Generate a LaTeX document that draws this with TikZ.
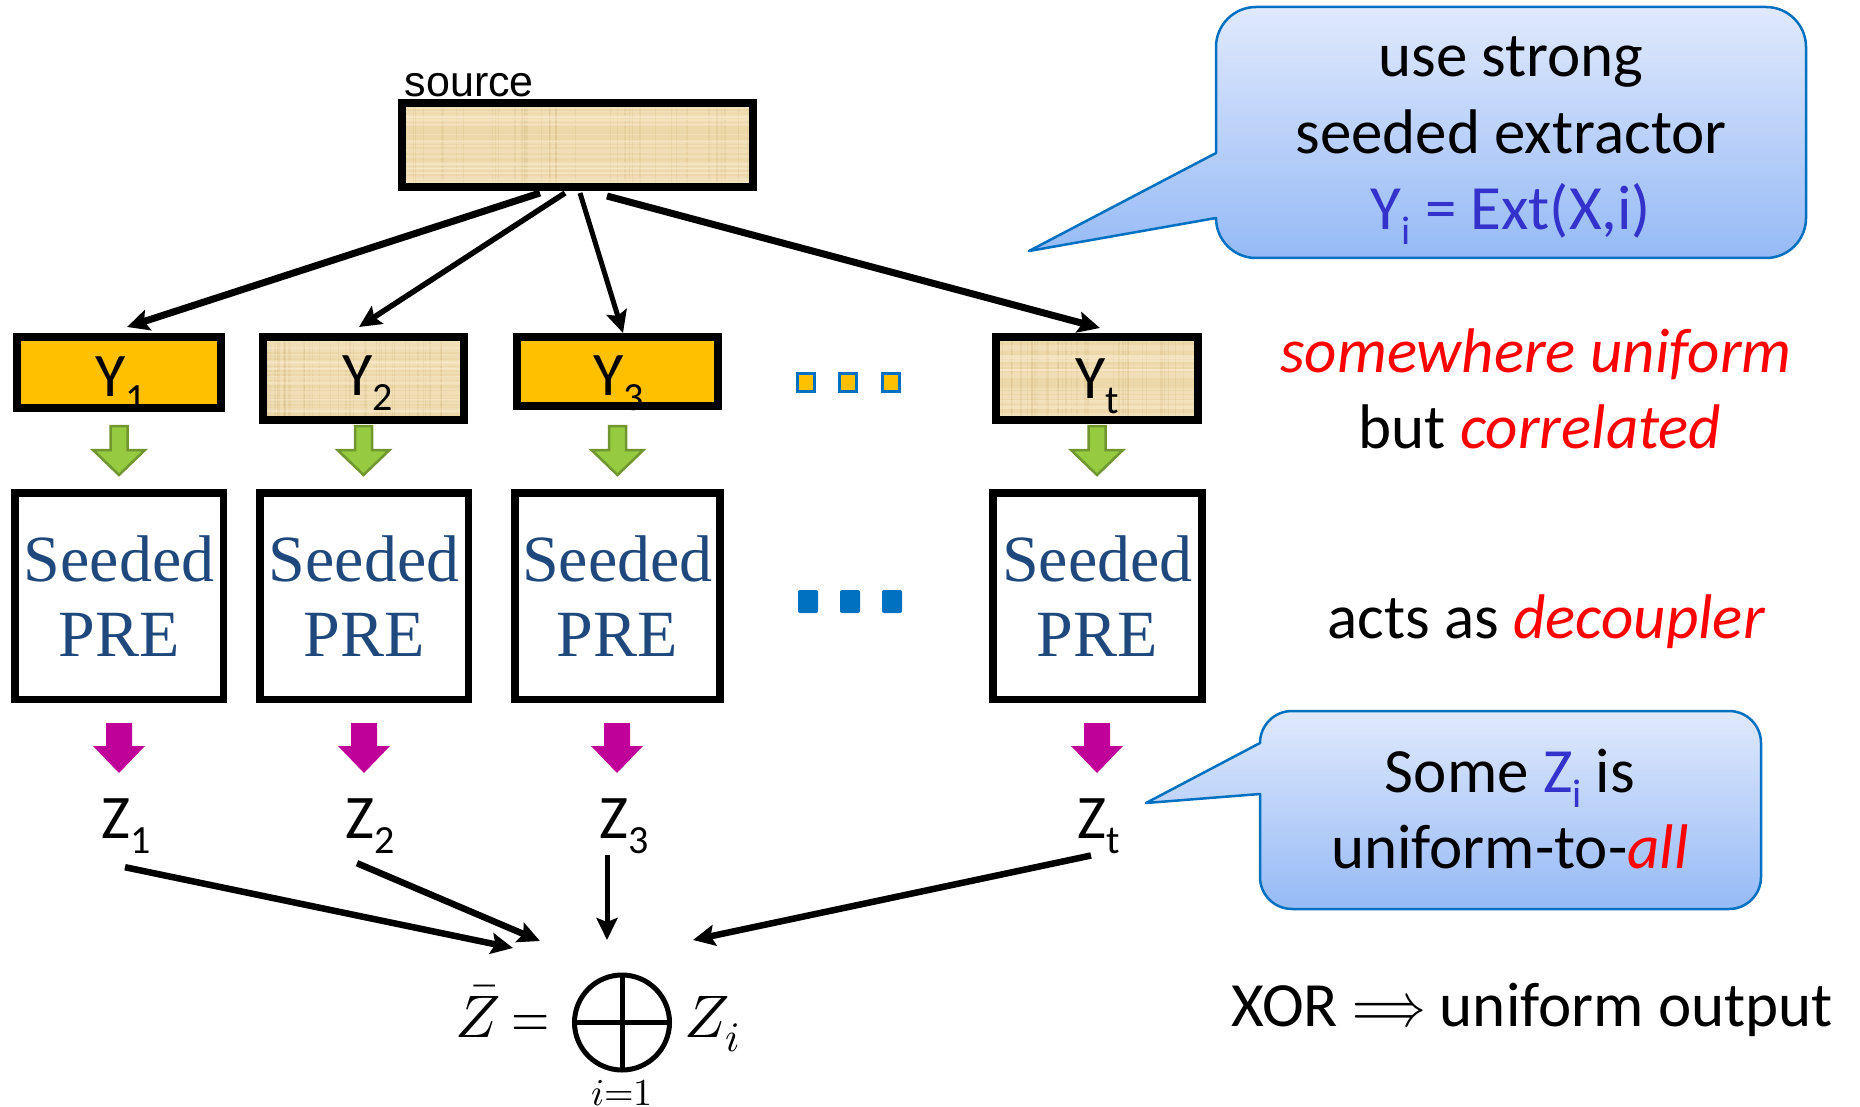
\documentclass[tikz,border=0pt]{standalone}
\usepackage{graphicx}
\usepackage{fontspec}
\usepackage{unicode-math}
\setmathfont{Latin Modern Math}
\setmainfont{Carlito}
\newfontfamily\arialf{Liberation Sans}
\newfontfamily\prefont{Liberation Serif}
\usetikzlibrary{arrows.meta,calc}

\definecolor{yorange}{RGB}{255,192,0}
\definecolor{papy}{RGB}{236,216,168}
\definecolor{papyD}{RGB}{196,166,104}
\definecolor{papyL}{RGB}{250,238,210}
\definecolor{garrow}{RGB}{150,202,64}
\definecolor{garrowD}{RGB}{112,150,48}
\definecolor{marrow}{RGB}{191,0,153}
\definecolor{preblue}{RGB}{31,73,125}
\definecolor{dotblue}{RGB}{0,112,192}
\definecolor{txtred}{RGB}{255,0,0}
\definecolor{txtblue}{RGB}{51,51,204}
\definecolor{calTop}{RGB}{224,233,252}
\definecolor{calBot}{RGB}{150,186,246}
\definecolor{calLine}{RGB}{0,112,192}

\newcommand\sbs[1]{\raisebox{-15pt}{\fontsize{40}{40}\selectfont #1}}

\tikzset{
  boxst/.style={line width=7.5pt, inner sep=0pt, outer sep=0pt},
  lbl/.style={inner sep=0pt, anchor=base, font=\fontsize{62}{62}\selectfont},
  rtxt/.style={inner sep=0pt, anchor=base, font=\fontsize{63}{63}\selectfont},
  pretxt/.style={align=center, text=preblue, font=\prefont\fontsize{66}{75}\selectfont},
  conn/.style={draw=black, -{Stealth[length=22pt, width=21pt, inset=4pt]}},
  greenar/.style={fill=garrow, draw=garrowD, line width=2.5pt, line join=miter},
  magar/.style={fill=marrow},
  odot/.style={draw=dotblue, fill=yorange, line width=3pt, minimum width=17pt, minimum height=18pt, inner sep=0pt},
  bdot/.style={fill=dotblue, minimum width=20pt, minimum height=23pt, inner sep=0pt, rounded corners=2pt},
  callout/.style={draw=calLine, line width=2.5pt, top color=calTop, bottom color=calBot, line join=round},
  mathtxt/.style={inner sep=0pt, font=\fontsize{60}{60}\selectfont}
}

% block arrow: style, cx, top, headstart, tip, shaft half, head half
\newcommand\barrow[7]{%
  \path[#1] (#2-#6,#3) -- (#2+#6,#3) -- (#2+#6,#4) -- (#2+#7,#4) -- (#2,#5) -- (#2-#7,#4) -- (#2-#6,#4) -- cycle;}

\newcommand\papyrus[1]{%
  \begin{scope}
    \clip (#1.south west) rectangle (#1.north east);
    \foreach \k in {1,...,40}{%
      \pgfmathsetmacro\ra{rnd}%
      \pgfmathsetmacro\rb{rnd}%
      \draw[papyD, opacity=0.16, line width=1.4pt] ($(#1.north west)!\ra!(#1.north east)$) -- ($(#1.south west)!\ra!(#1.south east)$);
      \draw[papyL, opacity=0.35, line width=1.8pt] ($(#1.north west)!\rb!(#1.south west)$) -- ($(#1.north east)!\rb!(#1.south east)$);
    }
  \end{scope}
  \draw[line width=7.5pt] (#1.south west) rectangle (#1.north east);}

\begin{document}
\begin{tikzpicture}[x=1pt, y=-1pt]
\useasboundingbox (0,0) rectangle (1860,1107);
\pgfmathsetseed{7}

% callouts
\draw[callout] (1029,251) -- (1216,218) arc[start angle=180, end angle=90, radius=40]
  -- (1766,258) arc[start angle=90, end angle=0, radius=40]
  -- (1806,47) arc[start angle=0, end angle=-90, radius=40]
  -- (1256,7) arc[start angle=-90, end angle=-180, radius=40]
  -- (1216,153) -- cycle;
\draw[callout] (1146,803) -- (1260,794) -- (1260,877) arc[start angle=180, end angle=90, radius=32]
  -- (1729,909) arc[start angle=90, end angle=0, radius=32]
  -- (1761,743) arc[start angle=0, end angle=-90, radius=32]
  -- (1292,711) arc[start angle=-90, end angle=-180, radius=32]
  -- cycle;

% source
\node[boxst, fill=papy, minimum width=351pt, minimum height=84pt] (src) at (577.5,145) {};
\papyrus{src}
\node[anchor=base west, inner sep=0pt, font=\arialf\fontsize{43}{43}\selectfont] (srcl) at (404.5,97) {source};

% Y boxes
\node[boxst, draw, fill=yorange, minimum width=204pt, minimum height=71pt] (y1) at (119,372.5) {};
\node[boxst, fill=papy, minimum width=201pt, minimum height=83pt] (y2) at (363.5,378.5) {};
\papyrus{y2}
\node[boxst, draw, fill=yorange, minimum width=201pt, minimum height=69pt] (y3) at (617.5,371.5) {};
\node[boxst, fill=papy, minimum width=202pt, minimum height=83pt] (yt) at (1097,378.5) {};
\papyrus{yt}

\node[lbl] (y1l) at (121,396) {Y\sbs{1}};
\node[lbl] (y2l) at (368,395) {Y\sbs{2}};
\node[lbl] (y3l) at (619,395) {Y\sbs{3}};
\node[lbl] (ytl) at (1097,398) {Y\sbs{t}};

% dots
\node[odot] (od1) at (806,382) {};
\node[odot] (od2) at (848,382) {};
\node[odot] (od3) at (891,382) {};
\node[bdot] (bd1) at (808,601.5) {};
\node[bdot] (bd2) at (850,601.5) {};
\node[bdot] (bd3) at (892,601.5) {};

% arrows source -> Y
\draw[conn, line width=7pt] ([xshift=-37.5pt, yshift=-6pt]src.south) -- ([xshift=8pt, yshift=10pt]y1.north);
\draw[conn, line width=5.5pt] ([xshift=-12.5pt, yshift=-6pt]src.south) -- ([xshift=-4.5pt, yshift=10pt]y2.north);
\draw[conn, line width=5pt] ([xshift=2.5pt, yshift=-6pt]src.south) -- ([xshift=5.5pt, yshift=4pt]y3.north);
\draw[conn, line width=7pt] ([xshift=29.5pt, yshift=-9pt]src.south) -- ([xshift=3pt, yshift=9pt]yt.north);

% green arrows
\barrow{greenar}{119}{426}{450}{475}{8.5}{26}
\barrow{greenar}{363.5}{426}{450}{475}{8.5}{26}
\barrow{greenar}{617.5}{426}{450}{475}{8.5}{26}
\barrow{greenar}{1097}{426}{450}{475}{8.5}{26}

% PRE boxes
\node[boxst, draw, fill=white, minimum width=208.5pt, minimum height=206.5pt, pretxt] (p1) at (119,596) {Seeded\\PRE};
\node[boxst, draw, fill=white, minimum width=208.5pt, minimum height=206.5pt, pretxt] (p2) at (364,596) {Seeded\\PRE};
\node[boxst, draw, fill=white, minimum width=205pt, minimum height=206.5pt, pretxt] (p3) at (617.5,596) {Seeded\\PRE};
\node[boxst, draw, fill=white, minimum width=209pt, minimum height=206.5pt, pretxt] (p4) at (1097.5,596) {Seeded\\PRE};

% magenta arrows
\barrow{magar}{119}{723}{746}{773}{13}{26}
\barrow{magar}{364}{723}{746}{773}{13}{26}
\barrow{magar}{617}{723}{746}{773}{13}{26}
\barrow{magar}{1097}{723}{746}{773}{13}{26}

% Z labels
\node[lbl] (z1) at (126,838) {Z\sbs{1}};
\node[lbl] (z2) at (370,838) {Z\sbs{2}};
\node[lbl] (z3) at (624,838) {Z\sbs{3}};
\node[lbl] (zt) at (1099,838) {Z\sbs{t}};

% XOR
\node[draw, circle, line width=5pt, minimum size=95pt, inner sep=0pt, outer sep=0pt] (xor) at (622,1022.5) {};
\draw[line width=5pt] (xor.north) -- (xor.south);
\draw[line width=5pt] (xor.west) -- (xor.east);
\node[mathtxt, anchor=base west] (zbar) at (455,1037) {$\bar{Z}$};
\node[mathtxt, anchor=base west] (eqs) at (511,1037) {\scalebox{0.82}[1]{$=$}};
\node[mathtxt, anchor=base west] (zi) at (684,1037) {$Z_i$};
\node[inner sep=0pt, anchor=base, font=\fontsize{38}{38}\selectfont] (ione) at (622,1105) {$i{=}1$};

% arrows Z -> XOR
\draw[conn, line width=6.5pt] ([xshift=-1pt, yshift=-14pt]z1.south) -- ([shift={(-109pt,74.5pt)}]xor.center);
\draw[conn, line width=6.5pt] ([xshift=-13pt, yshift=-10pt]z2.south) -- ([shift={(-82pt,81.5pt)}]xor.center);
\draw[conn, line width=5pt] ([xshift=-17pt, yshift=-2pt]z3.south) -- ([shift={(-15pt,82.5pt)}]xor.center);
\draw[conn, line width=6.5pt] ([xshift=-8pt, yshift=-2pt]zt.south) -- ([shift={(71pt,82.5pt)}]xor.center);

% callout texts
\node[rtxt] (c1a) at (1511,77) {use strong};
\node[rtxt] (c1b) at (1511,154) {seeded extractor};
\node[rtxt, text=txtblue] (c1c) at (1511,230) {Y\sbs{i} = Ext(X,i)};
\node[rtxt] (c2a) at (1510,792) {Some \textcolor{txtblue}{Z\sbs{i}} is};
\node[rtxt] (c2b) at (1510,868) {uniform-to-\textcolor{txtred}{\itshape all}};

% right texts
\node[rtxt] (t1) at (1536,372) {\textcolor{txtred}{\itshape somewhere uniform}};
\node[rtxt] (t2) at (1540,448) {but \textcolor{txtred}{\itshape correlated}};
\node[rtxt] (t3) at (1546,638) {acts as \textcolor{txtred}{\itshape decoupler}};
\node[rtxt] (t4) at (1532,1026) {XOR \scalebox{0.8}[1]{$\Longrightarrow$} uniform output};
\end{tikzpicture}
\end{document}
